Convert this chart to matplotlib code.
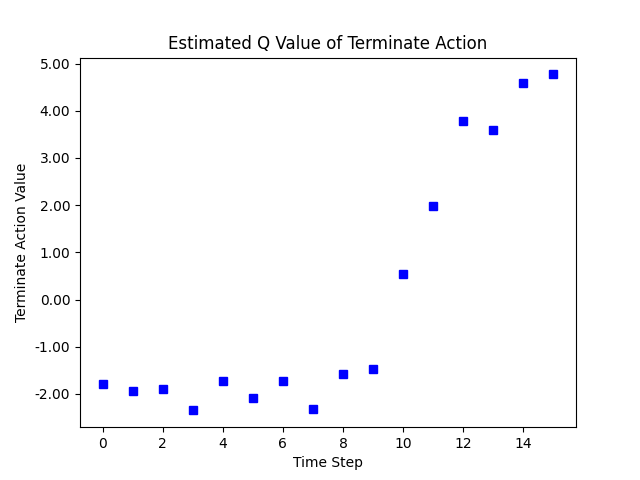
import numpy as np
import matplotlib
matplotlib.use('Agg')
import matplotlib.pyplot as plt
from matplotlib.ticker import FormatStrFormatter

# Valores estimados de la acción terminar
time_step = np.arange(16)
q_values = [-1.78, -1.93, -1.89, -2.35, -1.73, -2.08, -1.72, -2.31,
            -1.57, -1.48, 0.55, 1.99, 3.79, 3.60, 4.58, 4.77]

fig, ax = plt.subplots(figsize=(6.4, 4.8), dpi=100)
ax.plot(time_step, q_values, 'bs')
ax.yaxis.set_major_formatter(FormatStrFormatter('%.2f'))
ax.set_title('Estimated Q Value of Terminate Action')
ax.set_xlabel('Time Step')
ax.set_ylabel('Terminate Action Value')

fig.savefig('out.png', dpi=100)
